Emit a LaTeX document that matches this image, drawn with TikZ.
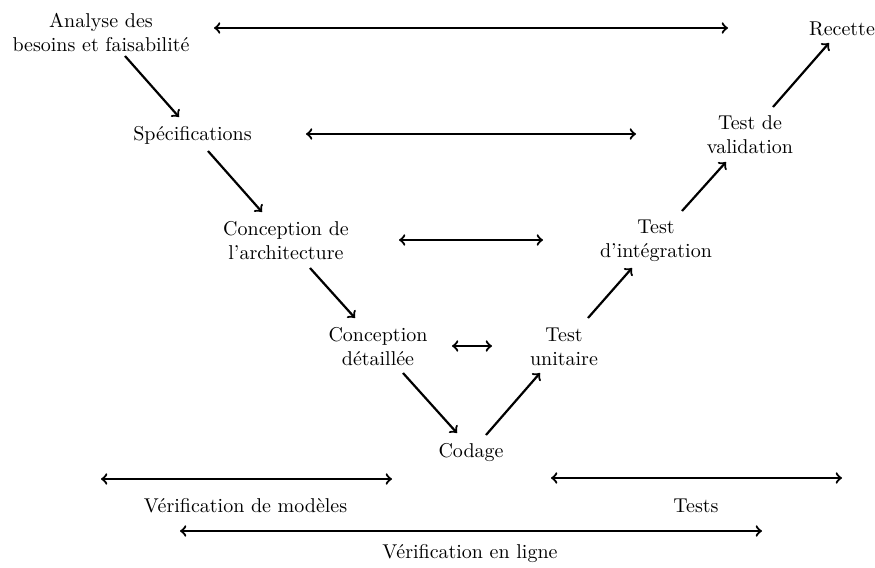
\documentclass[tikz,border=0pt]{standalone}
\usetikzlibrary{calc}
\begin{document}
\begin{tikzpicture}[x=0.5pt,y=-0.5pt,
  lbl/.style={align=center,inner sep=0pt},
  flow/.style={line width=1.1pt,->},
  link/.style={line width=1.1pt,<->}]
\useasboundingbox (0,0) rectangle (875,568);
% nodes
\node[lbl] (ana) at (101,32.5) {Analyse des\\besoins et faisabilité};
\node[lbl] (spec) at (192.5,135) {Spécifications};
\node[lbl] (carch) at (286,240.5) {Conception de\\l'architecture};
\node[lbl] (cdet) at (378,347) {Conception\\détaillée};
\node[lbl] (cod) at (471,453) {Codage};
\node[lbl] (tu) at (564,347) {Test\\unitaire};
\node[lbl] (ti) at (656,241) {Test\\d'intégration};
\node[lbl] (tv) at (750,135) {Test de\\validation};
\node[lbl] (rec) at (842,29) {Recette};
\node[lbl] (vm) at (245.5,505.5) {Vérification de modèles};
\node[lbl] (tests) at (696,505.5) {Tests};
\node[lbl] (vel) at (470,554) {Vérification en ligne};
% descending / ascending flow
\draw[flow] ($(ana)+(24,23.5)$) -- ($(spec)+(-13.5,-18)$);
\draw[flow] ($(spec)+(15.5,16)$) -- ($(carch)+(-24,-28.5)$);
\draw[flow] ($(carch)+(24,27.5)$) -- ($(cdet)+(-23,-29)$);
\draw[flow] ($(cdet)+(25,26)$) -- ($(cod)+(-14,-20)$);
\draw[flow] ($(cod)+(15,-18)$) -- ($(tu)+(-24,26)$);
\draw[flow] ($(tu)+(24,-29)$) -- ($(ti)+(-24,27)$);
\draw[flow] ($(ti)+(26,-30)$) -- ($(tv)+(-24,27)$);
\draw[flow] ($(tv)+(23,-28)$) -- ($(rec)+(-13,14)$);
% correspondences
\draw[link] ($(ana)+(113,-4.5)$) -- ($(rec)+(-114,-1)$);
\draw[link] ($(spec)+(113.5,-1)$) -- ($(tv)+(-114,-1)$);
\draw[link] ($(carch)+(113,-0.5)$) -- ($(ti)+(-113,-1)$);
\draw[link] ($(cdet)+(74,-1)$) -- ($(tu)+(-72,-1)$);
% bottom ranges
\draw[link] ($(vm)+(-144.5,-26.5)$) -- ($(vm)+(146.5,-26.5)$);
\draw[link] ($(tests)+(-145,-27.5)$) -- ($(tests)+(146,-27.5)$);
\draw[link] ($(vel)+(-290,-23)$) -- ($(vel)+(292,-23)$);
\end{tikzpicture}
\end{document}
